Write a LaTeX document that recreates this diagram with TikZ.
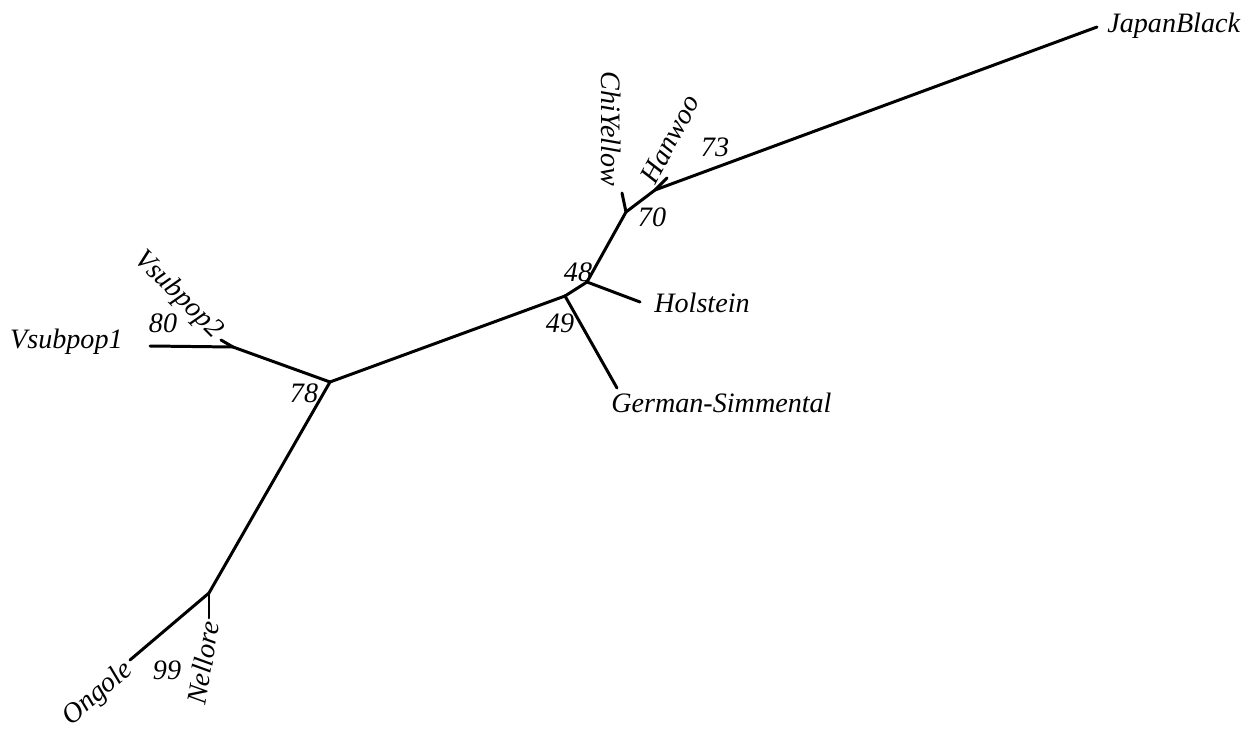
\documentclass[tikz,border=0pt]{standalone}
\usepackage{fontspec}
\setmainfont{Liberation Serif}
\usepackage{tikz}
\usetikzlibrary{calc}
\tikzset{
  branch/.style={line width=1.7pt, line cap=round, line join=round},
  taxon/.style={inner sep=0pt, font=\fontsize{16}{19}\selectfont\itshape},
  boot/.style={inner sep=0pt, font=\fontsize{16}{19}\selectfont\itshape}
}
\newcommand{\edge}[2]{\draw[branch] (#1) -- (#2);}

\begin{document}
\begin{tikzpicture}[x=0.02cm, y=-0.02cm]
        \useasboundingbox (0,0) rectangle (1259,730);
        % inner nodes
        \coordinate (n78) at (330,382);
        \coordinate (n80) at (233,347);
        \coordinate (n49) at (565,296);
        \coordinate (n48) at (587,282);
        \coordinate (n70) at (626,212);
        \coordinate (n73) at (655,190);
        \coordinate (n99) at (209,593);
        % tips
        \coordinate (vs1) at (150,346);
        \coordinate (vs2) at (221,340);
        \coordinate (gs) at (617,388);
        \coordinate (hol) at (640,302);
        \coordinate (chy) at (622,193);
        \coordinate (han) at (667,178);
        \coordinate (jb) at (1097,27);
        \coordinate (ong) at (130,660);
        \coordinate (nel) at (209,618);
        % branches
        \edge{n78}{n80}
        \edge{n80}{vs1}
        \edge{n80}{vs2}
        \edge{n78}{n49}
        \edge{n49}{gs}
        \edge{n49}{n48}
        \edge{n48}{hol}
        \edge{n48}{n70}
        \edge{n70}{chy}
        \edge{n70}{n73}
        \edge{n73}{han}
        \edge{n73}{jb}
        \edge{n78}{n99}
        \edge{n99}{ong}
        \edge{n99}{nel}
        % taxon names
        \node[taxon, anchor=west] (tjb) at (1107,26) {JapanBlack};
        \node[taxon, anchor=west] (thol) at (654,303) {Holstein};
        \node[taxon, anchor=west] (tgs) at (611,403) {German-Simmental};
        \node[taxon, anchor=east] (tvs1) at (123,342) {Vsubpop1};
        \node[taxon, rotate=-45] (tvs2) at (178,295) {Vsubpop2};
        \node[taxon, rotate=-90] (tchy) at (611,129) {ChiYellow};
        \node[taxon, rotate=62] (than) at (670,139) {Hanwoo};
        \node[taxon, rotate=41] (tong) at (98,694) {Ongole};
        \node[taxon, rotate=80] (tnel) at (203,663) {Nellore};
        % bootstrap values
        \node[boot] (b73) at (715,147) {73};
        \node[boot] (b70) at (652,217) {70};
        \node[boot] (b48) at (578,272) {48};
        \node[boot] (b49) at (560,323) {49};
        \node[boot] (b80) at (163,323) {80};
        \node[boot] (b78) at (304,393) {78};
        \node[boot] (b99) at (167,670) {99};
\end{tikzpicture}
\end{document}
